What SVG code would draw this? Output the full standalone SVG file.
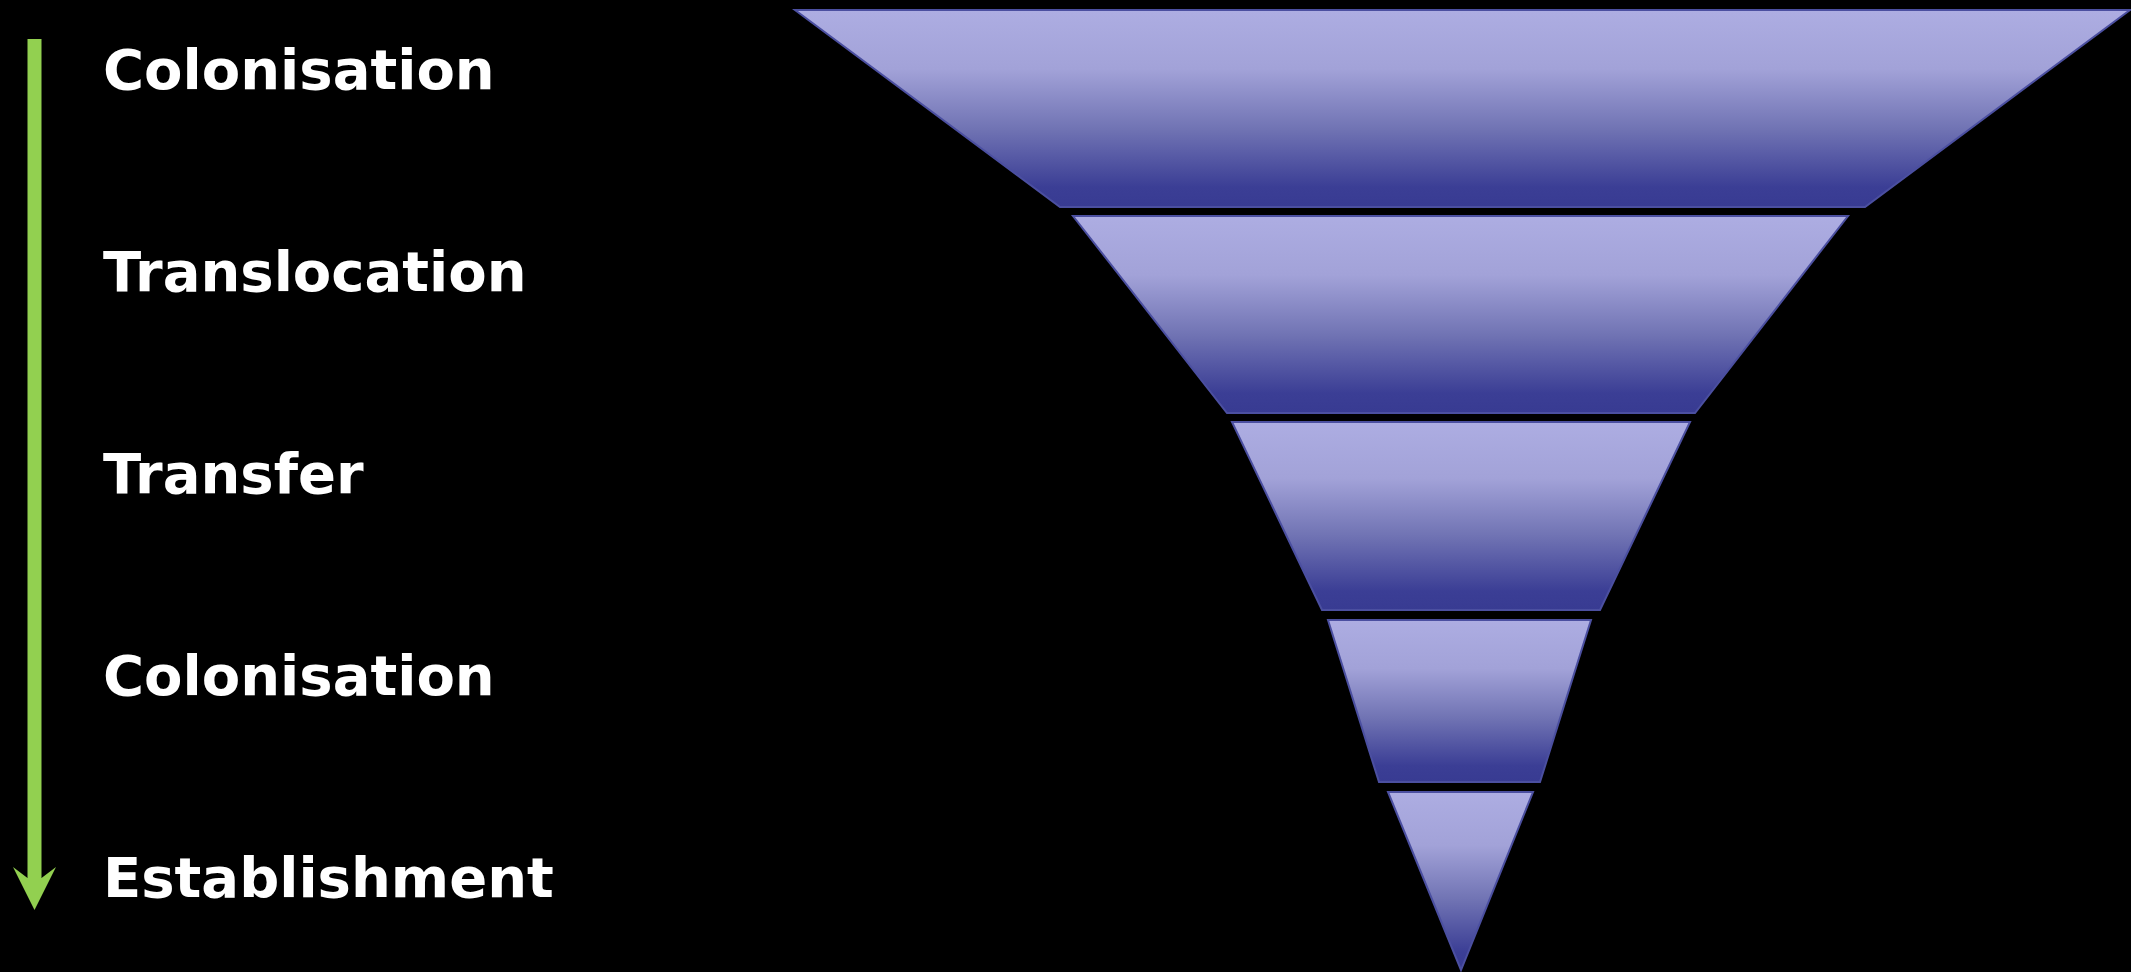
<svg xmlns="http://www.w3.org/2000/svg" width="2131" height="972" viewBox="0 0 2131 972">
<defs>
<linearGradient id="g" x1="0" y1="0" x2="0" y2="1">
<stop offset="0" stop-color="#ADADE2"/>
<stop offset="0.3" stop-color="#A2A2D8"/>
<stop offset="0.6" stop-color="#7174B4"/>
<stop offset="0.9" stop-color="#3B3E95"/>
<stop offset="1" stop-color="#383B92"/>
</linearGradient>
</defs>
<style>
.seg{fill:url(#g);stroke:#4B4FA0;stroke-width:2;stroke-linejoin:miter}
.lbl{font-family:"DejaVu Sans",Verdana,sans-serif;font-weight:bold;font-size:56px;fill:#FFFFFF}
</style>
<rect x="0" y="0" width="2131" height="972" fill="#000000"/>
<g id="arrow">
<rect x="27.5" y="39" width="14" height="841" fill="#92D050"/>
<polygon points="27.5,878 13,867 34.5,910 56,867 41.5,878" fill="#92D050"/>
</g>
<g id="labels">
<text class="lbl" x="103" y="89">Colonisation</text>
<text class="lbl" x="103" y="291">Translocation</text>
<text class="lbl" x="103" y="493">Transfer</text>
<text class="lbl" x="103" y="695">Colonisation</text>
<text class="lbl" x="103" y="897">Establishment</text>
</g>
<g id="funnel">
<polygon id="seg1" class="seg" points="795,10 2130,10 1865,207 1060,207"/>
<polygon id="seg2" class="seg" points="1073,216 1848,216 1695,413 1227,413"/>
<polygon id="seg3" class="seg" points="1232,422 1690,422 1600,610 1322,610"/>
<polygon id="seg4" class="seg" points="1328,620 1591,620 1540,782 1379,782"/>
<polygon id="seg5" class="seg" points="1388,792 1533,792 1461,970"/>
</g>
</svg>
